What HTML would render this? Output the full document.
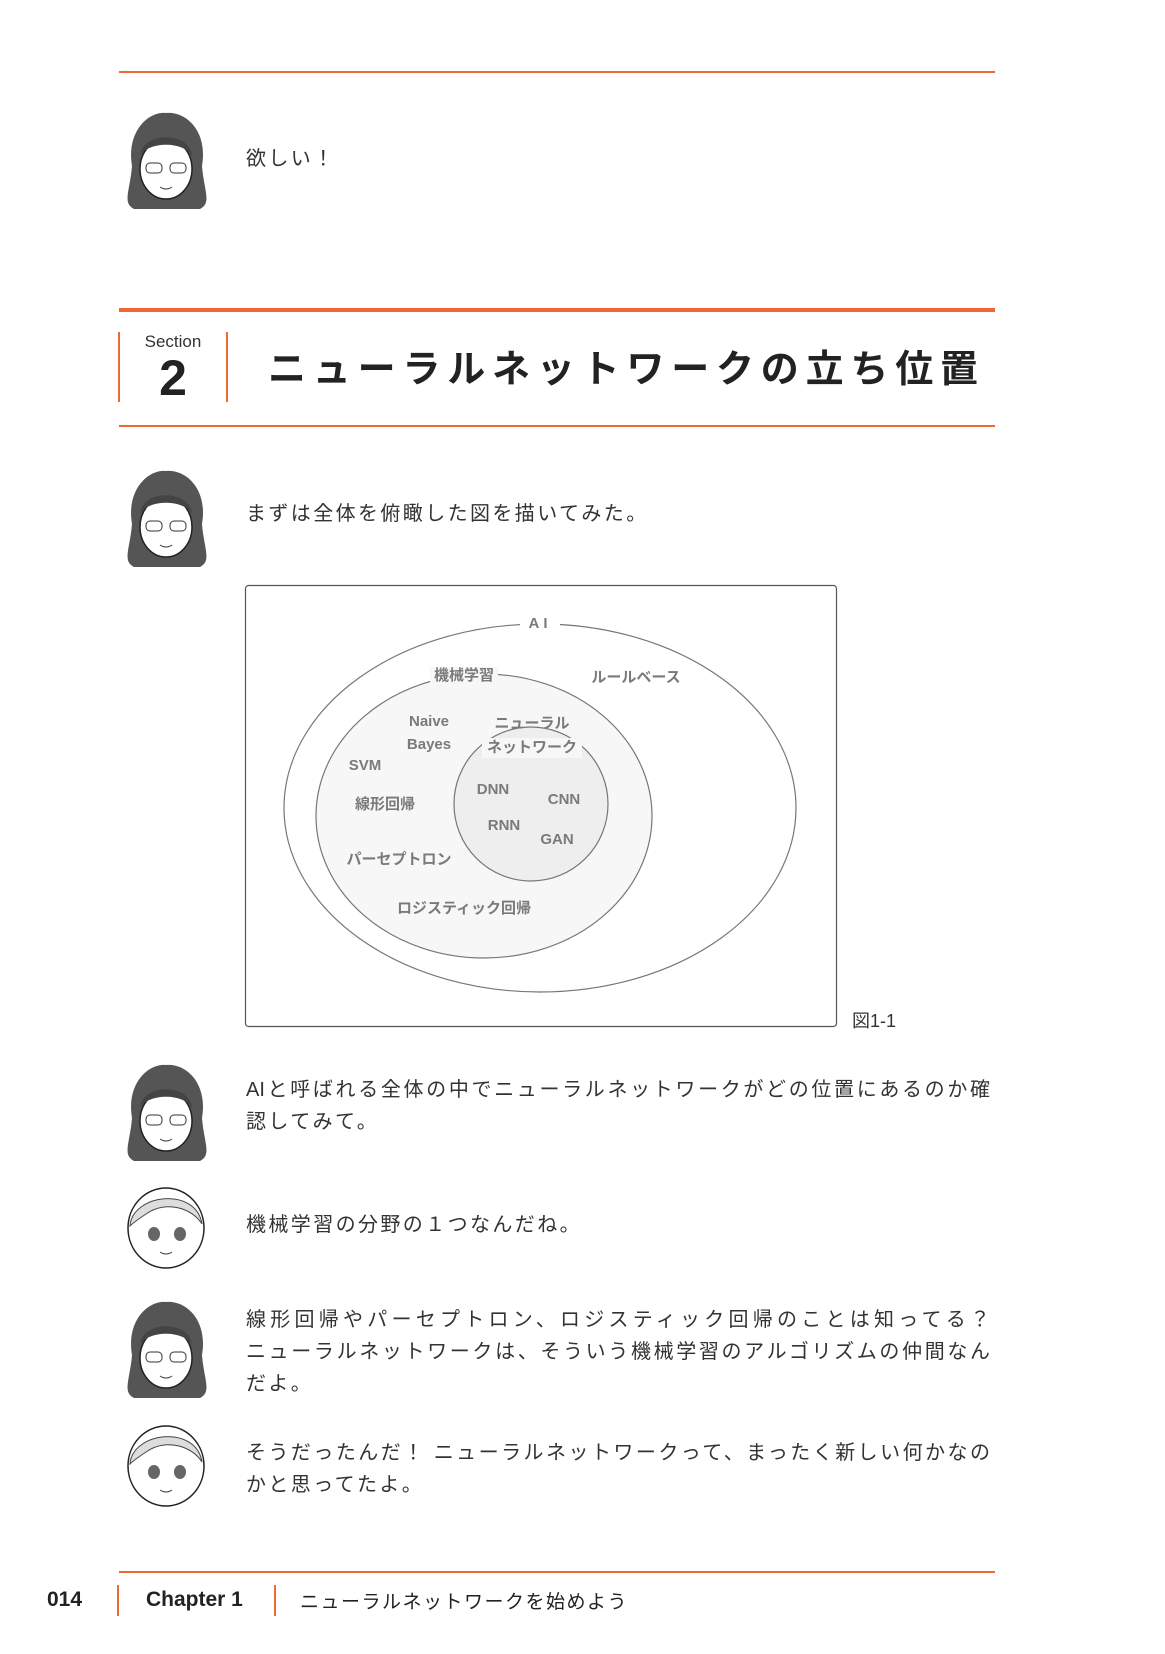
<!DOCTYPE html>
<html><head><meta charset="utf-8">
<style>
*{margin:0;padding:0;box-sizing:border-box}
body{width:1165px;height:1654px;background:#fff;position:relative;overflow:hidden;font-family:"Liberation Sans","Noto Sans CJK JP",sans-serif;color:#333}
.a{position:absolute}
.hl{position:absolute;left:119px;width:876px;background:#ef6a32}
.t{position:absolute;left:246px;font-size:20px;letter-spacing:2.4px;color:#333;white-space:nowrap;line-height:32px}
.j{width:744px;text-align:justify;text-align-last:justify;letter-spacing:0}
.lb{font-family:"Liberation Sans","Noto Sans CJK JP",sans-serif;font-weight:bold;font-size:15px;fill:#7a7a7a;text-anchor:middle;dominant-baseline:middle}
</style></head><body>

<div class="hl" style="top:71px;height:2px"></div>

<svg class="a" style="left:0;top:0" width="1165" height="1654">
<defs>
<g id="gd">
 <path d="M8,55 C2,20 25,0 42,2 C62,0 84,20 78,55 C80,80 88,92 76,98 L10,98 C-2,92 6,80 8,55Z" fill="#555"/>
 <ellipse cx="42" cy="58" rx="26" ry="30" fill="#fff" stroke="#222" stroke-width="1.5"/>
 <path d="M16,45 C18,20 66,20 68,45 C60,30 24,30 16,45Z" fill="#444"/>
 <rect x="22" y="52" width="16" height="10" rx="4" fill="none" stroke="#333"/>
 <rect x="46" y="52" width="16" height="10" rx="4" fill="none" stroke="#333"/>
 <path d="M36,76 Q42,80 48,76" stroke="#333" fill="none"/>
</g>
<g id="gl">
 <ellipse cx="40" cy="42" rx="38" ry="40" fill="#fff" stroke="#222" stroke-width="1.5"/>
 <path d="M4,40 C6,8 70,0 76,38 C66,22 40,14 20,28 C14,32 8,36 4,40Z" fill="#ddd" stroke="#444"/>
 <ellipse cx="28" cy="48" rx="6" ry="7" fill="#666"/>
 <ellipse cx="54" cy="48" rx="6" ry="7" fill="#666"/>
 <path d="M34,66 Q40,70 46,66" stroke="#333" fill="none"/>
</g>
</defs>
<use href="#gd" x="124" y="111"/>
<use href="#gd" x="124" y="469"/>
<use href="#gd" x="124" y="1063"/>
<use href="#gl" x="126" y="1186"/>
<use href="#gd" x="124" y="1300"/>
<use href="#gl" x="126" y="1424"/>

<rect x="245.5" y="585.5" width="591" height="441" rx="3" fill="#fff" stroke="#555" stroke-width="1.2"/>
<ellipse cx="540" cy="808" rx="256" ry="184" fill="#fff" stroke="#777" stroke-width="1.2"/>
<ellipse cx="484" cy="816" rx="168" ry="142" fill="#f7f7f7" stroke="#777" stroke-width="1.2"/>
<ellipse cx="531" cy="804" rx="77" ry="77" fill="#eeeeee" stroke="#777" stroke-width="1.2"/>
<rect x="520" y="615" width="40" height="18" fill="#fff"/>
<rect x="430" y="667" width="68" height="18" fill="#f7f7f7"/>
<rect x="482" y="738" width="100" height="20" fill="#f7f7f7"/>
<text class="lb" x="540" y="624" letter-spacing="4">AI</text>
<text class="lb" x="464" y="676">機械学習</text>
<text class="lb" x="636" y="678">ルールベース</text>
<text class="lb" x="429" y="722">Naive</text>
<text class="lb" x="429" y="745">Bayes</text>
<text class="lb" x="532" y="724">ニューラル</text>
<text class="lb" x="532" y="748">ネットワーク</text>
<text class="lb" x="365" y="766">SVM</text>
<text class="lb" x="385" y="805">線形回帰</text>
<text class="lb" x="493" y="790">DNN</text>
<text class="lb" x="564" y="800">CNN</text>
<text class="lb" x="504" y="826">RNN</text>
<text class="lb" x="557" y="840">GAN</text>
<text class="lb" x="399" y="860">パーセプトロン</text>
<text class="lb" x="464" y="909">ロジスティック回帰</text>
</svg>

<div class="t" style="top:143px">欲しい！</div>

<div class="hl" style="top:308px;height:4px"></div>
<div class="a" style="left:118px;top:332px;width:2px;height:70px;background:#ef6a32"></div>
<div class="a" style="left:226px;top:332px;width:2px;height:70px;background:#ef6a32"></div>
<div class="a" style="left:123px;top:332px;width:100px;text-align:center;font-size:17px;color:#333">Section</div>
<div class="a" style="left:123px;top:348px;width:100px;text-align:center;font-size:50px;line-height:60px;font-weight:bold;color:#222">2</div>
<div class="a" style="left:268px;top:345px;font-size:38px;line-height:50px;font-weight:bold;letter-spacing:6.8px;color:#222;white-space:nowrap">ニューラルネットワークの立ち位置</div>
<div class="hl" style="top:425px;height:2px"></div>

<div class="t" style="top:498px">まずは全体を俯瞰した図を描いてみた。</div>

<div class="a" style="left:852px;top:1007px;font-size:18px;color:#333">図1-1</div>

<div class="t" style="top:1074px"><div class="j">AIと呼ばれる全体の中でニューラルネットワークがどの位置にあるのか確</div>認してみて。</div>
<div class="t" style="top:1209px">機械学習の分野の１つなんだね。</div>
<div class="t" style="top:1304px"><div class="j">線形回帰やパーセプトロン、ロジスティック回帰のことは知ってる？</div><div class="j">ニューラルネットワークは、そういう機械学習のアルゴリズムの仲間なん</div>だよ。</div>
<div class="t" style="top:1437px"><div class="j">そうだったんだ！ ニューラルネットワークって、まったく新しい何かなの</div>かと思ってたよ。</div>

<div class="hl" style="top:1571px;height:2px"></div>
<div class="a" style="left:47px;top:1588px;font-size:21px;font-weight:bold;color:#222">014</div>
<div class="a" style="left:117px;top:1585px;width:2px;height:31px;background:#ef6a32"></div>
<div class="a" style="left:146px;top:1588px;font-size:21px;font-weight:bold;color:#222">Chapter 1</div>
<div class="a" style="left:274px;top:1585px;width:2px;height:31px;background:#ef6a32"></div>
<div class="a" style="left:300px;top:1587px;font-size:19px;letter-spacing:1.5px;color:#222;white-space:nowrap">ニューラルネットワークを始めよう</div>
</body></html>
